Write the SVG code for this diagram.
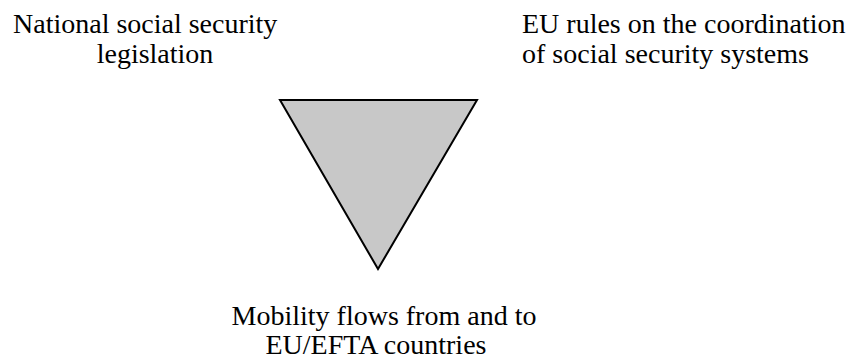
<svg xmlns="http://www.w3.org/2000/svg" width="850" height="360" viewBox="0 0 850 360">
<style>
text{font-family:"Liberation Serif","Times New Roman",serif;font-size:28px;fill:#000}
</style>
<rect width="850" height="360" fill="#fff"/>
<g id="national">
<text x="13" y="33">National social security</text>
<text x="155" y="63" text-anchor="middle">legislation</text>
</g>
<g id="eu-rules">
<text x="522" y="33">EU rules on the coordination</text>
<text x="522" y="63">of social security systems</text>
</g>
<g id="triangle">
<polygon points="280,100 477,100 378,269" fill="#c8c8c8" stroke="#000" stroke-width="2" stroke-linejoin="miter"/>
</g>
<g id="mobility">
<text x="384" y="325" text-anchor="middle">Mobility flows from and to</text>
<text x="376" y="354" text-anchor="middle">EU/EFTA countries</text>
</g>
<g id="connectors"></g>
</svg>
